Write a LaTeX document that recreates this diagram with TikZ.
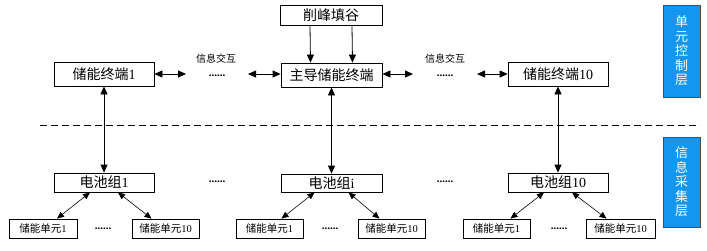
\documentclass[tikz,border=0pt]{standalone}
\usepackage{fontspec}
\setmainfont{Liberation Serif}
\newfontfamily\cjk{Noto Sans CJK SC}
\newcommand{\zh}[1]{{\cjk #1}}
\usetikzlibrary{arrows.meta}
\definecolor{layerblue}{RGB}{18,150,240}
\begin{document}
\begin{tikzpicture}[x=1pt,y=-1pt,
  line width=0.8pt,
  bx/.style={draw, line width=0.8pt, inner sep=0pt, minimum width=100pt, minimum height=24pt, font=\fontsize{14}{14}\selectfont},
  gbx/.style={bx, minimum height=19pt},
  ubx/.style={draw, line width=0.8pt, inner sep=0pt, minimum width=67pt, minimum height=19pt, font=\fontsize{10.5}{10.5}\selectfont},
  layer/.style={draw=black!70, fill=layerblue, text=white, inner sep=0pt, minimum width=37pt, align=center, font=\cjk\fontsize{13}{14.5}\selectfont},
  lbl/.style={inner sep=0pt, font=\cjk\fontsize{10}{10}\selectfont},
  dotsn/.style={inner sep=0pt, anchor=base, font=\bfseries\fontsize{11}{11}\selectfont},
  arr/.style={-{Triangle[length=8pt,width=7pt]}},
  dbl/.style={{Triangle[length=8pt,width=7pt]}-{Triangle[length=8pt,width=7pt]}},
  sdbl/.style={{Triangle[length=7pt,width=6pt]}-{Triangle[length=7pt,width=6pt]}, line width=0.6pt}
]
\useasboundingbox (0,0) rectangle (707,250);

% control layer
\node[bx, minimum width=102pt, minimum height=20pt] (peak) at (331,15) {\zh{削峰填谷}};
\node[bx] (term1) at (104,74) {\zh{储能终端}1};
\node[bx, minimum width=101pt] (main) at (331.5,75) {\zh{主导储能终端}};
\node[bx] (term10) at (558,74) {\zh{储能终端}10};

\draw[arr] ([xshift=-21pt]peak.south) -- ([xshift=-21pt]main.north);
\draw[arr] ([xshift=21pt]peak.south) -- ([xshift=21pt]main.north);

\coordinate (a1) at (186,74);
\coordinate (a2) at (248,74);
\coordinate (a3) at (413,74);
\coordinate (a4) at (477,74);
\draw[dbl] (term1.east) -- (a1);
\draw[dbl] (a2) -- (main.west |- a2);
\draw[dbl] (main.east |- a3) -- (a3);
\draw[dbl] (a4) -- (term10.west);
\node[lbl] (info1) at (216,59) {信息交互};
\node[lbl] (info2) at (445,59) {信息交互};
\node[dotsn] (dA) at (217,76) {......};
\node[dotsn] (dB) at (445,76) {......};

% dashed separator
\coordinate (dl) at (40,125);
\coordinate (dr) at (700,125);
\draw[dash pattern=on 7pt off 4pt] (dl) -- (dr);

% battery groups
\node[gbx] (g1) at (104,182.5) {\zh{电池组}1};
\node[gbx, minimum width=101pt, minimum height=18pt] (gi) at (331.5,183) {\zh{电池组}i};
\node[gbx] (g10) at (558,182.5) {\zh{电池组}10};

\draw[dbl] (term1.south) -- (g1.north);
\draw[dbl] (main.south) -- (gi.north);
\draw[dbl] (term10.south) -- (g10.north);

\node[dotsn] (dC) at (217,182) {......};
\node[dotsn] (dD) at (445,182) {......};

% units
\node[ubx, minimum width=68pt] (u1a) at (43,228.5) {\zh{储能单元}1};
\node[ubx] (u10a) at (165.5,228.5) {\zh{储能单元}10};
\node[ubx] (u1i) at (269.5,228.5) {\zh{储能单元}1};
\node[ubx] (u10i) at (391.5,228.5) {\zh{储能单元}10};
\node[ubx] (u1c) at (496.5,228.5) {\zh{储能单元}1};
\node[ubx, minimum width=69pt] (u10c) at (620.5,228.5) {\zh{储能单元}10};

\node[dotsn] (dE) at (103,229) {......};
\node[dotsn] (dF) at (330,229) {......};
\node[dotsn] (dG) at (559,229) {......};

\draw[sdbl] ([xshift=-14pt]g1.south) -- ([xshift=14pt]u1a.north);
\draw[sdbl] ([xshift=14pt]g1.south) -- ([xshift=-14pt]u10a.north);
\draw[sdbl] ([xshift=-17pt]gi.south) -- ([xshift=12pt]u1i.north);
\draw[sdbl] ([xshift=17pt]gi.south) -- ([xshift=-12pt]u10i.north);
\draw[sdbl] ([xshift=-14pt]g10.south) -- ([xshift=14pt]u1c.north);
\draw[sdbl] ([xshift=14pt]g10.south) -- ([xshift=-14pt]u10c.north);

% layer labels
\node[layer, minimum height=92pt] (L1) at (681.5,51) {单\\元\\控\\制\\层};
\node[layer, minimum height=90pt] (L2) at (681.5,182) {信\\息\\采\\集\\层};
\end{tikzpicture}
\end{document}
